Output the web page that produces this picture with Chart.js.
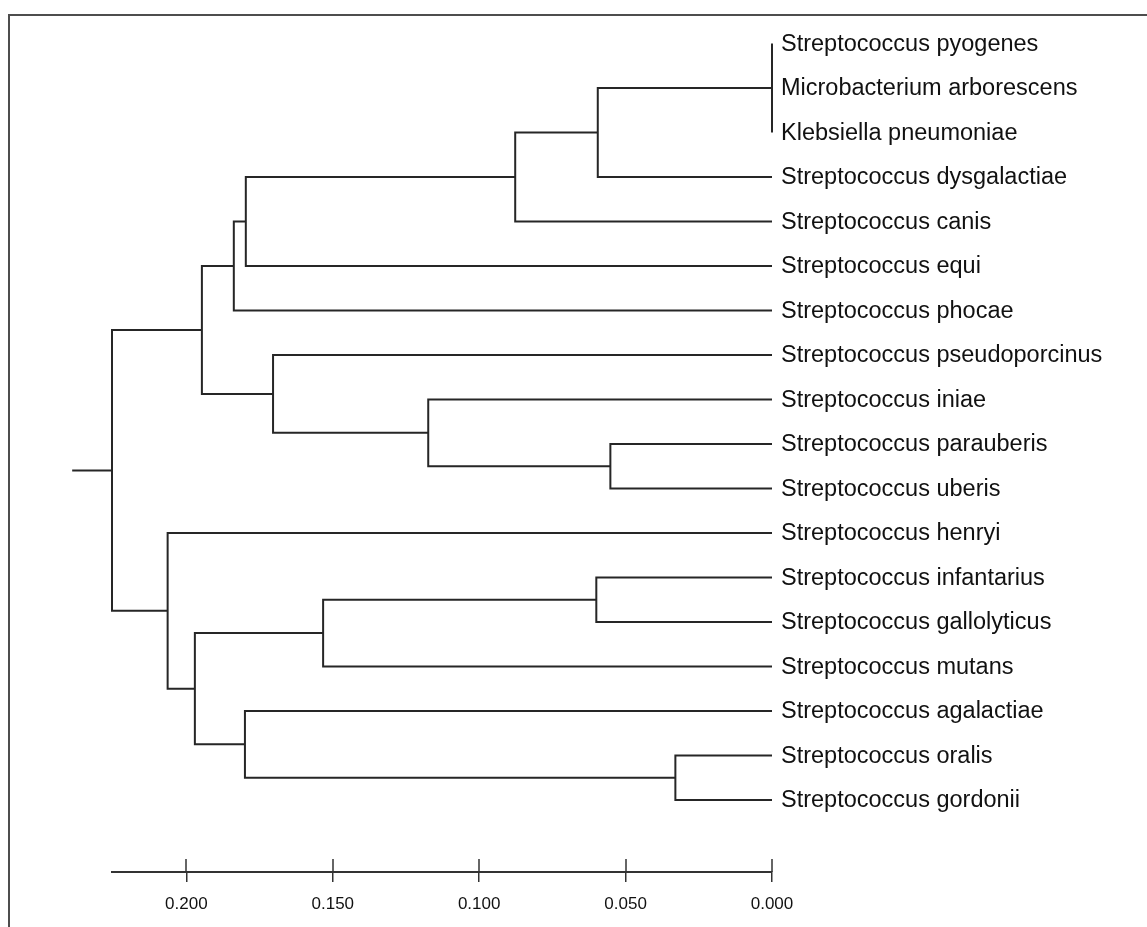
<!DOCTYPE html>
<html>
<head>
<meta charset="utf-8">
<script src="https://cdn.jsdelivr.net/npm/chart.js@4.4.1/dist/chart.umd.min.js"></script>
<style>
body { margin: 0; background: #fff; overflow: hidden; }
#frame { position: absolute; left: 8px; top: 14px; width: 1400px; height: 1200px;
         border-top: 2px solid #4d4d4d; border-left: 2px solid #4d4d4d; }
#tree { position: absolute; left: 0; top: 0; }
</style>
</head>
<body>
<div id="frame"></div>
<canvas id="tree" width="1147" height="927"></canvas>
<script>
// Leaves, top to bottom
const leaves = [
    "Streptococcus pyogenes",
    "Microbacterium arborescens",
    "Klebsiella pneumoniae",
    "Streptococcus dysgalactiae",
    "Streptococcus canis",
    "Streptococcus equi",
    "Streptococcus phocae",
    "Streptococcus pseudoporcinus",
    "Streptococcus iniae",
    "Streptococcus parauberis",
    "Streptococcus uberis",
    "Streptococcus henryi",
    "Streptococcus infantarius",
    "Streptococcus gallolyticus",
    "Streptococcus mutans",
    "Streptococcus agalactiae",
    "Streptococcus oralis",
    "Streptococcus gordonii"
];

// Internal nodes: children (number = leaf index, 'nK' = node K)
const nodeKids = [
    [0, 1, 2],        // n0
    ["n0", 3],        // n1
    ["n1", 4],        // n2
    ["n2", 5],        // n3
    ["n3", 6],        // n4
    [9, 10],          // n5
    [8, "n5"],        // n6
    [7, "n6"],        // n7
    ["n4", "n7"],     // n8
    [12, 13],         // n9
    ["n9", 14],       // n10
    [16, 17],         // n11
    [15, "n11"],      // n12
    ["n10", "n12"],   // n13
    [11, "n13"],      // n14
    ["n8", "n14"]     // n15 (root)
];

// Node heights (distance)
const nodeDist = [0.000, 0.0595, 0.0877, 0.1797, 0.1838, 0.0552, 0.1174, 0.1704,
                  0.1947, 0.0600, 0.1533, 0.0330, 0.1800, 0.1971, 0.2064, 0.2254];
const rootStub = 0.2390;
const distTicks = [0.200, 0.150, 0.100, 0.050, 0.000];

// Positions of leaves and nodes
const xPos = {};
const yPos = {};
leaves.forEach((n, i) => { xPos[i] = 0; yPos[i] = i; });
nodeKids.forEach((kids, k) => {
    const ys = kids.map(c => yPos[c]);
    yPos["n" + k] = (Math.min(...ys) + Math.max(...ys)) / 2;
    xPos["n" + k] = nodeDist[k];
});

// Branch paths
const paths = [];
nodeKids.forEach((kids, k) => {
    const x = nodeDist[k];
    const sorted = kids.slice().sort((a, b) => yPos[a] - yPos[b]);
    const top = sorted[0], bot = sorted[sorted.length - 1];
    paths.push([
        { x: xPos[top], y: yPos[top] },
        { x: x, y: yPos[top] },
        { x: x, y: yPos[bot] },
        { x: xPos[bot], y: yPos[bot] }
    ]);
    sorted.slice(1, -1).forEach(c => {
        if (xPos[c] !== x) paths.push([{ x: x, y: yPos[c] }, { x: xPos[c], y: yPos[c] }]);
    });
});
const rootId = "n" + (nodeKids.length - 1);
paths.push([{ x: xPos[rootId], y: yPos[rootId] }, { x: rootStub, y: yPos[rootId] }]);

const lineColor = "#262626";

// upper half of the scale ticks
const tickUp = {
    id: "tickUp",
    afterDraw(chart) {
        const s = chart.scales.x;
        const ctx = chart.ctx;
        ctx.save();
        ctx.strokeStyle = "#333";
        ctx.lineWidth = 1.5;
        distTicks.forEach(v => {
            const px = Math.round(s.getPixelForValue(v));
            ctx.beginPath();
            ctx.moveTo(px, s.top - 13);
            ctx.lineTo(px, s.top);
            ctx.stroke();
        });
        ctx.restore();
    }
};

new Chart(document.getElementById("tree"), {
    type: "scatter",
    data: {
        datasets: paths.map(p => ({
            data: p,
            showLine: true,
            borderColor: lineColor,
            borderWidth: 2,
            pointRadius: 0,
            tension: 0,
            clip: false
        }))
    },
    options: {
        responsive: false,
        devicePixelRatio: 1,
        animation: false,
        events: [],
        layout: { padding: { left: 112, right: 0, top: 0, bottom: 0 } },
        plugins: { legend: { display: false }, tooltip: { enabled: false } },
        scales: {
            x: {
                type: "linear",
                reverse: true,
                min: 0,
                max: nodeDist[nodeDist.length - 1],
                afterBuildTicks: s => { s.ticks = distTicks.map(v => ({ value: v })); },
                afterFit: s => { s.height = 55; s.paddingLeft = 0; s.paddingRight = 0; },
                border: { color: "#333", width: 2 },
                grid: { drawOnChartArea: false, drawTicks: true, tickLength: 10, color: "#333", lineWidth: 1.5 },
                ticks: {
                    color: "#111",
                    padding: 12,
                    maxRotation: 0,
                    autoSkip: false,
                    font: { family: "'Liberation Sans', Arial, sans-serif", size: 17 },
                    callback: v => v.toFixed(3)
                }
            },
            y: {
                type: "linear",
                position: "right",
                reverse: true,
                min: -0.9775,
                max: 18.618,
                afterBuildTicks: s => { s.ticks = leaves.map((n, i) => ({ value: i })); },
                afterFit: s => { s.width = 375; s.paddingTop = 0; s.paddingBottom = 0; },
                grid: { display: false, drawTicks: false },
                border: { display: false },
                ticks: {
                    color: "#111",
                    padding: 9,
                    labelOffset: 1,
                    autoSkip: false,
                    font: { family: "'Liberation Sans', Arial, sans-serif", size: 23.5 },
                    callback: v => leaves[v]
                }
            }
        }
    },
    plugins: [tickUp]
});
</script>
</body>
</html>
